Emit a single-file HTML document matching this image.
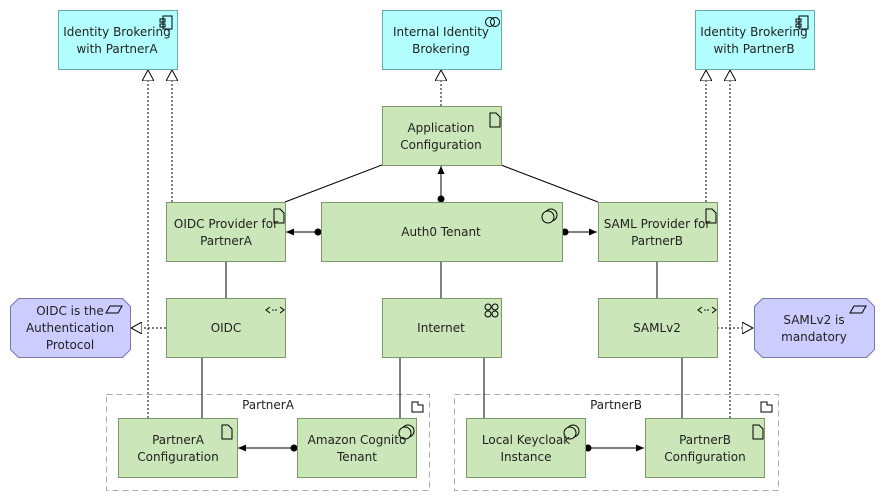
<!DOCTYPE html>
<html><head><meta charset="utf-8"><style>body{margin:0;background:#fff}svg{display:block}text{font-family:"DejaVu Sans","Liberation Sans",sans-serif;font-size:12px;fill:#222;text-anchor:middle}</style></head><body>
<svg width="884" height="501" viewBox="0 0 884 501">
<defs>
<marker id="tri" viewBox="0 0 12 12" refX="11" refY="6" markerWidth="12" markerHeight="12" markerUnits="userSpaceOnUse" orient="auto"><path d="M0,0 L11,6 L0,12 Z" fill="#fff" stroke="#000"/></marker>
<marker id="arr" viewBox="0 0 10 10" refX="9" refY="5" markerWidth="9" markerHeight="9" markerUnits="userSpaceOnUse" orient="auto"><path d="M0,1 L9,5 L0,9 Z" fill="#000"/></marker>
</defs>
<g fill="none" stroke="#aaa" stroke-dasharray="6,4"><rect x="106.5" y="394.5" width="323" height="96"/><rect x="454.5" y="394.5" width="324" height="96"/></g>
<text x="268" y="409">PartnerA</text><text x="616" y="409">PartnerB</text>
<g fill="none" stroke="#000"><path d="M412,402h6v3h5v7h-11z"/><path d="M761,402h6v3h5v7h-11z"/></g>
<g stroke="#000" stroke-dasharray="2,2" fill="none">
<line x1="148" y1="418" x2="148" y2="70" marker-end="url(#tri)"/>
<line x1="172" y1="202" x2="172" y2="70" marker-end="url(#tri)"/>
<line x1="706" y1="202" x2="706" y2="70" marker-end="url(#tri)"/>
<line x1="730" y1="418" x2="730" y2="70" marker-end="url(#tri)"/>
<line x1="441" y1="106" x2="441" y2="70" marker-end="url(#tri)"/>
<line x1="166" y1="328" x2="131" y2="328" marker-end="url(#tri)"/>
<line x1="717" y1="328" x2="753" y2="328" marker-end="url(#tri)"/>
</g>
<g stroke="#000" fill="none">
<line x1="285" y1="202" x2="382" y2="165"/><line x1="598" y1="202" x2="501" y2="165"/>
<line x1="226" y1="261" x2="226" y2="298"/><line x1="441" y1="261" x2="441" y2="298"/><line x1="657" y1="261" x2="657" y2="298"/>
<line x1="202" y1="357" x2="202" y2="418"/><line x1="400" y1="357" x2="400" y2="418"/><line x1="484" y1="357" x2="484" y2="418"/><line x1="682" y1="357" x2="682" y2="418"/>
<line x1="441" y1="199" x2="441" y2="166" marker-end="url(#arr)"/>
<line x1="318" y1="232" x2="286" y2="232" marker-end="url(#arr)"/>
<line x1="565" y1="232" x2="597" y2="232" marker-end="url(#arr)"/>
<line x1="294" y1="448" x2="238" y2="448" marker-end="url(#arr)"/>
<line x1="588" y1="448" x2="644" y2="448" marker-end="url(#arr)"/>
</g>
<g fill="#000"><circle cx="441" cy="199" r="3.5"/><circle cx="318" cy="232" r="3.5"/><circle cx="565" cy="232" r="3.5"/><circle cx="294" cy="448" r="3.5"/><circle cx="588" cy="448" r="3.5"/></g>
<g fill="#b3ffff" stroke="#6aa"><rect x="58.5" y="10.5" width="119" height="59"/><rect x="382.5" y="10.5" width="119" height="59"/><rect x="695.5" y="10.5" width="119" height="59"/></g>
<g fill="#cbe6b8" stroke="#7a9a6a">
<rect x="382.5" y="106.5" width="119" height="59"/>
<rect x="166.5" y="202.5" width="119" height="59"/><rect x="321.5" y="202.5" width="241" height="59"/><rect x="598.5" y="202.5" width="119" height="59"/>
<rect x="166.5" y="298.5" width="119" height="59"/><rect x="382.5" y="298.5" width="119" height="59"/><rect x="598.5" y="298.5" width="119" height="59"/>
<rect x="118.5" y="418.5" width="119" height="59"/><rect x="297.5" y="418.5" width="119" height="59"/><rect x="466.5" y="418.5" width="119" height="59"/><rect x="645.5" y="418.5" width="119" height="59"/>
</g>
<g fill="#ccccff" stroke="#7777aa"><path d="M18.5,298.5h104l8,8v43l-8,8h-104l-8,-8v-43z"/><path d="M762.5,298.5h104l8,8v43l-8,8h-104l-8,-8v-43z"/></g>
<g fill="none" stroke="#000">
<path d="M490,113h6l4,4v10h-10z"/><path d="M274,209h6l4,4v10h-10z"/><path d="M706,209h6l4,4v10h-10z"/><path d="M222,425h6l4,4v10h-10z"/><path d="M753,425h6l4,4v10h-10z"/>
<rect x="163" y="16" width="9" height="13"/><rect x="160" y="19" width="5" height="3"/><rect x="160" y="24" width="5" height="3"/>
<rect x="799" y="16" width="9" height="13"/><rect x="796" y="19" width="5" height="3"/><rect x="796" y="24" width="5" height="3"/>
<circle cx="490" cy="22" r="4.5"/><circle cx="495" cy="22" r="4.5"/>
<circle cx="551" cy="215" r="6"/><circle cx="548" cy="217" r="6" fill="#cbe6b8"/>
<circle cx="408" cy="431" r="6"/><circle cx="405" cy="433" r="6" fill="#cbe6b8"/>
<circle cx="573" cy="431" r="6"/><circle cx="570" cy="433" r="6" fill="#cbe6b8"/>
<circle cx="488" cy="307" r="3"/><circle cx="495" cy="307" r="3"/><circle cx="488" cy="314" r="3"/><circle cx="495" cy="314" r="3"/>
<path d="M270,307l-4,3l4,3M280,307l4,3l-4,3"/><path d="M702,307l-4,3l4,3M712,307l4,3l-4,3"/>
<path d="M110,306h12l-4,7h-12z"/><path d="M854,306h12l-4,7h-12z"/>
</g>
<g fill="#000"><circle cx="273" cy="310" r="0.8"/><circle cx="276" cy="310" r="0.8"/><circle cx="705" cy="310" r="0.8"/><circle cx="708" cy="310" r="0.8"/></g>
<text x="117" y="36">Identity Brokering</text><text x="117" y="53">with PartnerA</text>
<text x="441" y="36">Internal Identity</text><text x="441" y="53">Brokering</text>
<text x="754" y="36">Identity Brokering</text><text x="754" y="53">with PartnerB</text>
<text x="441" y="132">Application</text><text x="441" y="149">Configuration</text>
<text x="226" y="228">OIDC Provider for</text><text x="226" y="245">PartnerA</text>
<text x="441" y="236">Auth0 Tenant</text>
<text x="657" y="228">SAML Provider for</text><text x="657" y="245">PartnerB</text>
<text x="226" y="332">OIDC</text><text x="441" y="332">Internet</text><text x="657" y="332">SAMLv2</text>
<text x="70" y="315">OIDC is the</text><text x="70" y="332">Authentication</text><text x="70" y="349">Protocol</text>
<text x="814" y="324">SAMLv2 is</text><text x="814" y="341">mandatory</text>
<text x="178" y="444">PartnerA</text><text x="178" y="461">Configuration</text>
<text x="357" y="444">Amazon Cognito</text><text x="357" y="461">Tenant</text>
<text x="526" y="444">Local Keycloak</text><text x="526" y="461">Instance</text>
<text x="705" y="444">PartnerB</text><text x="705" y="461">Configuration</text>
</svg>
</body></html>
